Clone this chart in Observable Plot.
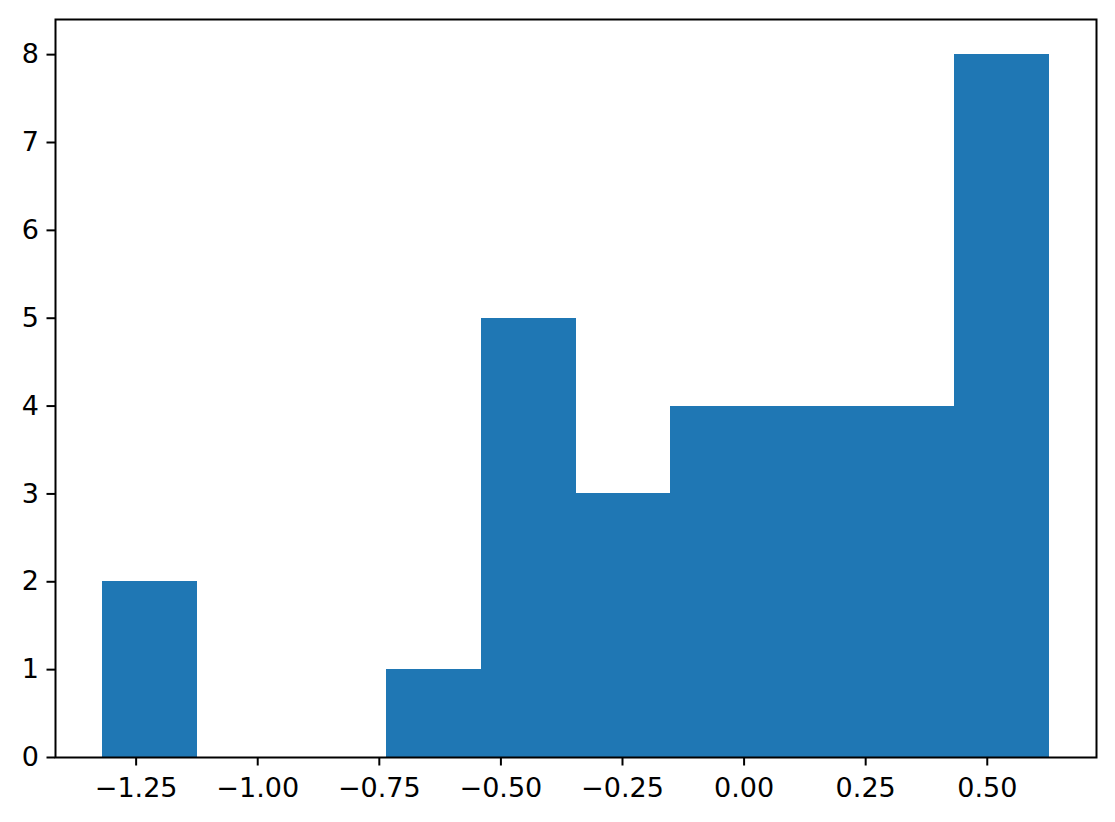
<!DOCTYPE html>
<html>
<head>
<meta charset="utf-8">
<script src="https://cdn.jsdelivr.net/npm/d3@7"></script>
<script src="https://cdn.jsdelivr.net/npm/@observablehq/plot@0.6"></script>
<style>
  html, body { margin: 0; padding: 0; background: #fff; }
  svg { display: block; }
</style>
</head>
<body>
<div id="chart"></div>
<script>
// Histogram bin edges (10 bins) and counts
const binEdges = [-1.3185, -1.1239, -0.9293, -0.7348, -0.5402, -0.3456, -0.1510, 0.0436, 0.2381, 0.4327, 0.6273];
const counts = [2, 0, 0, 1, 5, 3, 4, 4, 4, 8];
const xTicks = [-1.25, -1.0, -0.75, -0.5, -0.25, 0.0, 0.25, 0.5];
const yTicks = [0, 1, 2, 3, 4, 5, 6, 7, 8];

const bins = counts.map((c, i) => ({x1: binEdges[i], x2: binEdges[i + 1], y: c}));

const span = binEdges[binEdges.length - 1] - binEdges[0];
const xDomain = [binEdges[0] - 0.05 * span, binEdges[binEdges.length - 1] + 0.05 * span];
const yDomain = [0, d3.max(counts) * 1.05];

const fmt = d3.format(".2f");

const chart = Plot.plot({
  width: 1115,
  height: 822,
  marginLeft: 55,
  marginRight: 19,
  marginTop: 19,
  marginBottom: 65,
  style: {fontFamily: "DejaVu Sans", fontSize: "27px", color: "black", background: "white"},
  x: {domain: xDomain},
  y: {domain: yDomain},
  marks: [
    Plot.rectY(bins, {x1: "x1", x2: "x2", y: "y", fill: "#1f77b4", inset: 0, shapeRendering: "crispEdges"}),
    Plot.axisX({ticks: xTicks, tickFormat: fmt, tickSize: 8.5, tickPadding: 12, strokeWidth: 2, label: null, fontSize: 27, fill: "black"}),
    Plot.axisY({ticks: yTicks, tickFormat: d3.format("d"), tickSize: 8.5, tickPadding: 8, strokeWidth: 2, label: null, fontSize: 27, fill: "black"}),
    Plot.frame({stroke: "black", strokeWidth: 2})
  ]
});
document.getElementById("chart").appendChild(chart);
</script>
</body>
</html>
